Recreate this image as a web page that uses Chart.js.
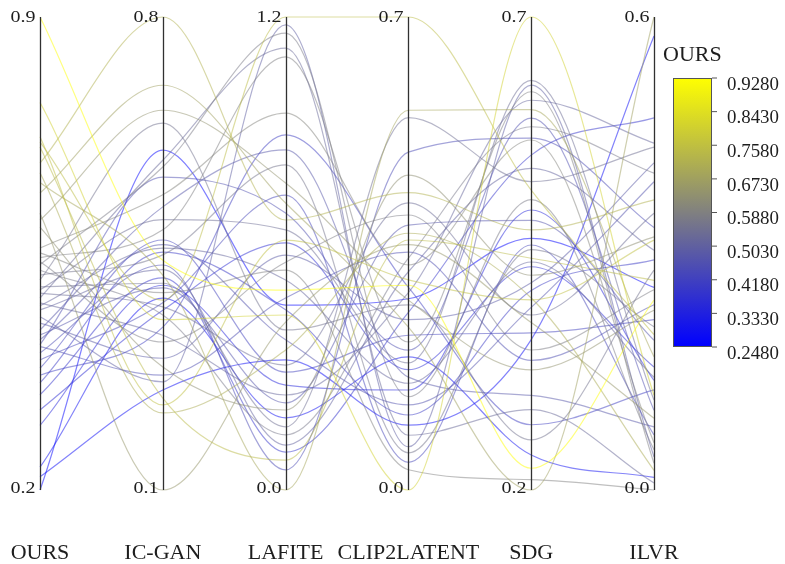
<!DOCTYPE html>
<html><head><meta charset="utf-8">
<script src="https://cdn.jsdelivr.net/npm/chart.js@4.4.1/dist/chart.umd.min.js"></script>
<style>html,body{margin:0;padding:0;background:#fff;}canvas{display:block;}</style>
</head><body>
<canvas id="c" width="785" height="564"></canvas>
<script>
// Axes (dimensions) of the parallel-coordinates plot
const axisNames = ['OURS', 'IC-GAN', 'LAFITE', 'CLIP2LATENT', 'SDG', 'ILVR'];
const axisMin = [0.248, 0.1, 0.0, 0.0, 0.2, 0.0];
const axisMax = [0.928, 0.8, 1.2, 0.7, 0.7, 0.6];

// One value per sample on each axis
const ours = [0.928,0.805,0.756,0.748,0.741,0.718,0.704,0.690,0.675,0.646,0.636,0.626,0.596,0.589,0.582,0.576,0.572,0.564,0.557,0.550,0.540,0.536,0.531,0.524,0.517,0.513,0.507,0.497,0.488,0.478,0.471,0.464,0.457,0.454,0.445,0.435,0.423,0.413,0.402,0.385,0.363,0.341,0.281,0.267,0.248];
const icgan = [0.440,0.352,0.226,0.381,0.236,0.800,0.214,0.418,0.699,0.100,0.662,0.282,0.537,0.392,0.485,0.319,0.578,0.359,0.448,0.643,0.406,0.500,0.371,0.588,0.329,0.458,0.426,0.260,0.295,0.519,0.399,0.463,0.563,0.270,0.433,0.377,0.470,0.341,0.452,0.414,0.366,0.403,0.384,0.248,0.603];
const lafite = [0.507,0.444,0.634,1.200,0.076,0.685,0.355,0.000,0.728,0.426,0.779,0.203,0.956,0.558,1.099,0.578,1.159,0.140,0.825,0.406,0.160,0.660,0.317,1.121,0.241,0.533,0.114,1.180,0.596,0.863,0.221,0.381,0.703,0.487,0.051,0.748,0.299,0.901,0.457,0.096,0.627,0.266,0.183,0.330,0.469];
const clip2latent = [0.303,0.000,0.311,0.700,0.370,0.440,0.380,0.562,0.241,0.363,0.281,0.466,0.333,0.030,0.219,0.407,0.138,0.343,0.055,0.274,0.551,0.188,0.425,0.081,0.292,0.158,0.323,0.064,0.252,0.167,0.392,0.126,0.207,0.352,0.500,0.041,0.229,0.300,0.111,0.263,0.178,0.148,0.197,0.096,0.283];
const sdg = [0.223,0.700,0.401,0.517,0.445,0.475,0.403,0.602,0.200,0.377,0.327,0.427,0.570,0.211,0.621,0.348,0.507,0.584,0.454,0.253,0.526,0.633,0.385,0.285,0.612,0.441,0.540,0.628,0.419,0.300,0.485,0.393,0.593,0.337,0.572,0.459,0.366,0.269,0.411,0.554,0.436,0.496,0.237,0.359,0.466];
const ilvr = [0.241,0.120,0.317,0.197,0.266,0.368,0.025,0.169,0.600,0.091,0.228,0.321,0.060,0.000,0.034,0.254,0.051,0.402,0.207,0.279,0.435,0.114,0.351,0.009,0.440,0.143,0.304,0.042,0.415,0.080,0.190,0.391,0.101,0.235,0.333,0.070,0.216,0.127,0.292,0.472,0.156,0.139,0.016,0.576,0.257];

// Colour bar (coloured by OURS)
const colorbarTitle = 'OURS';
const colorbarTicks = ['0.9280','0.8430','0.7580','0.6730','0.5880','0.5030','0.4180','0.3330','0.2480'];
const cbMin = 0.248, cbMax = 0.928;

const columns = [ours, icgan, lafite, clip2latent, sdg, ilvr];

function cmap(v, a) {
  let t = Math.max(0, Math.min(1, (v - cbMin) / (cbMax - cbMin)));
  let r, g, b;
  if (t < 0.5) { const s = t / 0.5; r = g = 128 * s; b = 255 - 127 * s; }
  else { const s = (t - 0.5) / 0.5; r = g = 128 + 127 * s; b = 128 - 128 * s; }
  return `rgba(${Math.round(r)},${Math.round(g)},${Math.round(b)},${a})`;
}

const datasets = ours.map((v, k) => ({
  data: columns.map((col, i) => (col[k] - axisMin[i]) / (axisMax[i] - axisMin[i])),
  borderColor: cmap(v, 0.5),
  borderWidth: 1.2,
  pointRadius: 0,
  fill: false,
  tension: 0.4,
  cubicInterpolationMode: 'monotone',
  clip: 4
}));

const SERIF = '"Liberation Serif", "Times New Roman", serif';

function txt(ctx, s, x, y, align, size, sx) {
  ctx.save();
  ctx.translate(x, y);
  ctx.scale(sx, 1);
  ctx.font = size + 'px ' + SERIF;
  ctx.textAlign = align;
  ctx.textBaseline = 'middle';
  ctx.fillStyle = '#1e1e1e';
  ctx.fillText(s, 0, 0);
  ctx.restore();
}

const pcPlugin = {
  id: 'pcAxes',
  afterDatasetsDraw(chart) {
    const { ctx, chartArea: { top, bottom }, scales: { x } } = chart;
    ctx.save();
    ctx.strokeStyle = '#303030';
    ctx.lineWidth = 1.3;
    axisNames.forEach((n, i) => {
      const px = Math.round(x.getPixelForValue(i)) + 0.5;
      ctx.beginPath(); ctx.moveTo(px, top); ctx.lineTo(px, bottom); ctx.stroke();
      txt(ctx, axisMax[i].toFixed(1), px - 5, top + 1, 'right', 16, 1.25);
      txt(ctx, axisMin[i].toFixed(1), px - 5, bottom - 1, 'right', 16, 1.25);
    });
    // colour bar
    const bx = 673, bw = 39, by = 78, bh = 269;
    const grad = ctx.createLinearGradient(0, by + bh, 0, by);
    grad.addColorStop(0, cmap(cbMin, 1));
    grad.addColorStop(0.5, cmap((cbMin + cbMax) / 2, 1));
    grad.addColorStop(1, cmap(cbMax, 1));
    ctx.fillStyle = grad;
    ctx.fillRect(bx, by, bw, bh);
    ctx.strokeStyle = '#555';
    ctx.lineWidth = 1;
    ctx.strokeRect(bx + 0.5, by + 0.5, bw - 1, bh - 1);
    txt(ctx, colorbarTitle, 663, 55, 'left', 22, 1);
    colorbarTicks.forEach((lab, j) => {
      const ty = by + bh * j / (colorbarTicks.length - 1);
      ctx.beginPath(); ctx.moveTo(bx + bw, ty); ctx.lineTo(bx + bw + 5, ty); ctx.stroke();
      txt(ctx, lab, 727, ty + 7, 'left', 18, 1.05);
    });
    ctx.restore();
  }
};

new Chart(document.getElementById('c').getContext('2d'), {
  type: 'line',
  data: { labels: axisNames, datasets },
  options: {
    responsive: false,
    animation: false,
    devicePixelRatio: 1,
    layout: { padding: { left: 40, right: 131, top: 17, bottom: 0 } },
    plugins: { legend: { display: false }, tooltip: { enabled: false } },
    scales: {
      x: {
        type: 'category',
        offset: false,
        grid: { display: false, drawTicks: false },
        border: { display: false },
        ticks: { font: { family: SERIF, size: 22 }, color: '#1e1e1e', padding: 50, maxRotation: 0, autoSkip: false },
        afterFit(s) { s.height = 74; s.paddingLeft = 0; s.paddingRight = 0; }
      },
      y: { display: false, min: 0, max: 1 }
    }
  },
  plugins: [pcPlugin]
});
</script>
</body></html>
